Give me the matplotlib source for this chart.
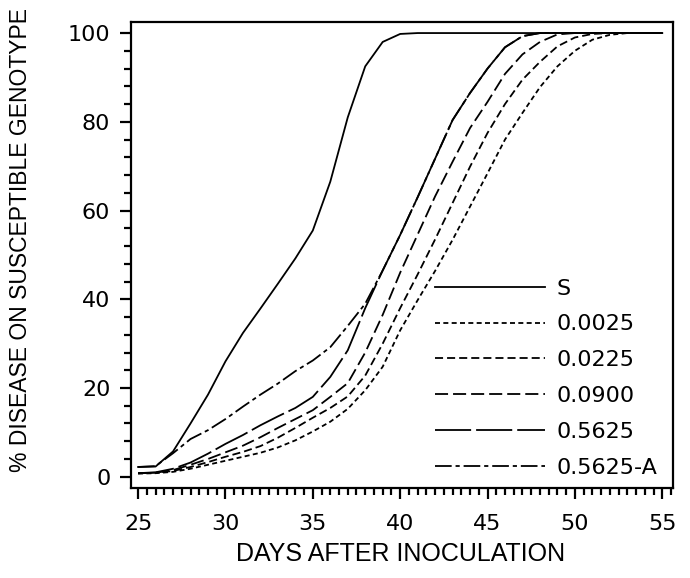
import numpy as np
import matplotlib
matplotlib.use('Agg')
import matplotlib.pyplot as plt
from matplotlib.ticker import MultipleLocator

plt.rcParams['font.family'] = ['Liberation Sans', 'DejaVu Sans']
plt.rcParams['lines.scale_dashes'] = False

# days after inoculation
days = list(range(25, 56))

# % disease on susceptible genotype
s_curve = [2.2, 2.3, 5.7, 12.0, 18.5, 26.0, 32.4, 37.9, 43.5, 49.2, 55.5, 66.5, 81.0, 92.5, 98.0, 99.8,
           100, 100, 100, 100, 100, 100, 100, 100, 100, 100, 100, 100, 100, 100, 100]
p0025 = [0.7, 0.8, 1.1, 1.8, 2.7, 3.6, 4.5, 5.4, 6.6, 8.2, 10.2, 12.4, 15.3, 19.5, 24.8, 33.0,
         39.8, 46.4, 53.4, 60.9, 68.4, 76.0, 82.0, 87.8, 92.5, 96.0, 98.5, 99.6, 100, 100, 100]
p0225 = [0.8, 0.9, 1.3, 2.2, 3.3, 4.5, 5.6, 6.9, 8.8, 11.0, 13.3, 15.5, 18.1, 22.8, 30.0, 38.0,
         45.6, 53.5, 61.7, 69.9, 77.5, 84.0, 89.5, 93.5, 97.0, 99.0, 99.8, 100, 100, 100, 100]
p0900 = [0.8, 0.9, 1.5, 2.7, 4.0, 5.5, 7.0, 8.9, 11.0, 13.0, 15.0, 18.0, 21.1, 28.0, 36.5, 46.0,
         54.6, 63.2, 71.0, 78.6, 84.5, 90.8, 95.2, 98.0, 99.7, 100, 100, 100, 100, 100, 100]
p5625 = [0.8, 1.0, 1.8, 3.2, 5.2, 7.4, 9.4, 11.6, 13.6, 15.5, 18.0, 22.5, 28.5, 38.0, 46.5, 54.5,
         63.0, 71.7, 80.4, 86.5, 92.0, 96.8, 99.3, 100, 100, 100, 100, 100, 100, 100, 100]
p5625a = [2.2, 2.4, 5.3, 8.5, 10.5, 13.0, 15.8, 18.5, 21.0, 23.8, 26.2, 29.2, 34.0, 39.0, 46.5, 54.5,
          63.0, 71.7, 80.4, 86.5, 92.0, 96.8, 99.3, 100, 100, 100, 100, 100, 100, 100, 100]

labels = ['S', '0.0025', '0.0225', '0.0900', '0.5625', '0.5625-A']
series = [s_curve, p0025, p0225, p0900, p5625, p5625a]
styles = ['-', (0, (3.6, 2.4)), (0, (5.8, 2.9)), (0, (9.4, 3.6)), (0, (26, 3.6)), (0, (12, 2.8, 3, 2.8))]

fig = plt.figure(figsize=(6.9, 5.78), dpi=100)
ax = fig.add_axes([0.190, 0.156, 0.785, 0.806])

for vals, lab, ls in zip(series, labels, styles):
    ax.plot(days, vals, color='black', lw=1.3, linestyle=ls, label=lab)

ax.set_xlim(24.6, 55.6)
ax.set_ylim(-2.5, 102.5)
ax.xaxis.set_major_locator(MultipleLocator(5))
ax.xaxis.set_minor_locator(MultipleLocator(0.5))
ax.yaxis.set_major_locator(MultipleLocator(20))
ax.yaxis.set_minor_locator(MultipleLocator(4))
ax.tick_params(which='both', direction='out', width=1.6, color='black', top=False, right=False)
ax.tick_params(which='major', length=8)
ax.tick_params(axis='x', which='major', pad=11)
ax.tick_params(axis='y', which='major', pad=7)
ax.tick_params(which='minor', length=5)
for t in ax.get_xticklabels() + ax.get_yticklabels():
    t.set_family('DejaVu Sans')
    t.set_fontsize(16)
for sp in ax.spines.values():
    sp.set_linewidth(1.6)

ax.set_xlabel('DAYS AFTER INOCULATION', fontsize=18)
ax.set_ylabel('% DISEASE ON SUSCEPTIBLE GENOTYPE', fontsize=16.5)
ax.xaxis.set_label_coords(0.498, -0.116)
ax.yaxis.set_label_coords(-0.183, 0.532)

ax.legend(loc='upper left', bbox_to_anchor=(0.561, 0.449), frameon=False,
          prop={'family': 'DejaVu Sans', 'size': 16},
          handlelength=4.95, handletextpad=0.54, labelspacing=0.71, borderpad=0, borderaxespad=0)

fig.savefig('out.png', dpi=100)
